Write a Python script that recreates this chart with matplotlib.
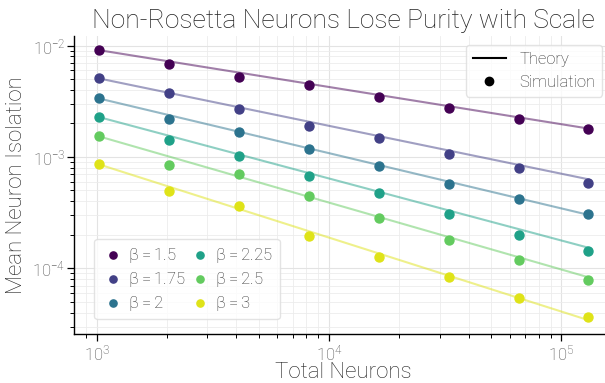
import numpy as np
import matplotlib
matplotlib.use("Agg")
import matplotlib.pyplot as plt
from matplotlib.lines import Line2D

plt.rcParams['font.family'] = ['Roboto', 'DejaVu Sans']
plt.rcParams['font.weight'] = 'light'
plt.rcParams['axes.titleweight'] = 'light'
plt.rcParams['axes.labelweight'] = 'light'
plt.rcParams['mathtext.default'] = 'regular'

# data
neurons = [1024, 2048, 4096, 8192, 16384, 32768, 65536, 131072]
betas = [1.5, 1.75, 2, 2.25, 2.5, 3]
beta_labels = ["1.5", "1.75", "2", "2.25", "2.5", "3"]

sim_b150 = [9.1e-3, 6.9e-3, 5.27e-3, 4.41e-3, 3.49e-3, 2.76e-3, 2.21e-3, 1.78e-3]
sim_b175 = [5.07e-3, 3.74e-3, 2.69e-3, 1.89e-3, 1.47e-3, 1.06e-3, 7.94e-4, 5.85e-4]
sim_b200 = [3.35e-3, 2.20e-3, 1.66e-3, 1.18e-3, 8.34e-4, 5.70e-4, 4.19e-4, 3.10e-4]
sim_b225 = [2.27e-3, 1.43e-3, 1.02e-3, 6.73e-4, 4.77e-4, 3.05e-4, 2.00e-4, 1.43e-4]
sim_b250 = [1.53e-3, 8.45e-4, 7.06e-4, 4.49e-4, 2.83e-4, 1.78e-4, 1.19e-4, 7.9e-5]
sim_b300 = [8.57e-4, 4.98e-4, 3.62e-4, 1.96e-4, 1.26e-4, 8.30e-5, 5.38e-5, 3.62e-5]
sims = [sim_b150, sim_b175, sim_b200, sim_b225, sim_b250, sim_b300]

# theory lines: value at first and last N
theory_start = [9.1e-3, 5.07e-3, 3.35e-3, 2.28e-3, 1.53e-3, 8.57e-4]
theory_end = [1.80e-3, 6.3e-4, 3.02e-4, 1.53e-4, 8.3e-5, 3.42e-5]

colors = plt.cm.viridis(np.linspace(0, 0.95, len(betas)))

fig = plt.figure(figsize=(6.05, 3.83), dpi=100)
ax = fig.add_axes([0.123, 0.127, 0.89, 0.779])

for i in range(len(betas)):
    ax.plot([neurons[0], neurons[-1]], [theory_start[i], theory_end[i]],
            color=colors[i], alpha=0.5, lw=1.5, zorder=2)
    ax.scatter(neurons, sims[i], color=colors[i], s=42, zorder=3,
               label="$β = " + beta_labels[i] + "$")

ax.set_xscale('log')
ax.set_yscale('log')
ax.set_xlim(802, 167000)
ax.set_ylim(2.55e-5, 1.22e-2)

ax.grid(True, which='major', color='#e3e3e3', lw=0.8, zorder=0)
ax.grid(True, which='minor', color='#ececec', lw=0.6, zorder=0)
ax.set_axisbelow(True)
for s in ['top', 'right']:
    ax.spines[s].set_visible(False)
for s in ['left', 'bottom']:
    ax.spines[s].set_color('black')
    ax.spines[s].set_linewidth(1.0)
ax.tick_params(which='major', length=5, width=0.9, color='black',
               labelsize=12, labelcolor='#444444', pad=1.5)
ax.tick_params(which='minor', length=3, width=0.7, color='black')

ax.set_xlabel("Total Neurons", fontsize=16, color='#222222', labelpad=-1)
ax.set_ylabel("Mean Neuron Isolation", fontsize=16, color='#222222', labelpad=4)
ax.set_title("Non-Rosetta Neurons Lose Purity with Scale", fontsize=19,
             color='#222222', pad=6)

leg1 = ax.legend(loc='lower left', bbox_to_anchor=(0.037, 0.05), ncol=2,
                 fontsize=12, borderaxespad=0, handlelength=1.4,
                 handletextpad=0.2, columnspacing=0.2, markerscale=0.8,
                 frameon=True, labelspacing=0.3)
leg1.get_frame().set_edgecolor('#dddddd')
for t in leg1.get_texts():
    t.set_color('#333333')
ax.add_artist(leg1)

handles = [Line2D([], [], color='black', lw=1.5),
           Line2D([], [], color='black', marker='o', ls='', markersize=6)]
leg2 = ax.legend(handles, ["Theory", "Simulation"], loc='upper right',
                 bbox_to_anchor=(0.98, 0.97), borderaxespad=0, fontsize=12,
                 frameon=True)
leg2.get_frame().set_edgecolor('#dddddd')
for t in leg2.get_texts():
    t.set_color('#333333')

fig.savefig("out.png", dpi=100)
